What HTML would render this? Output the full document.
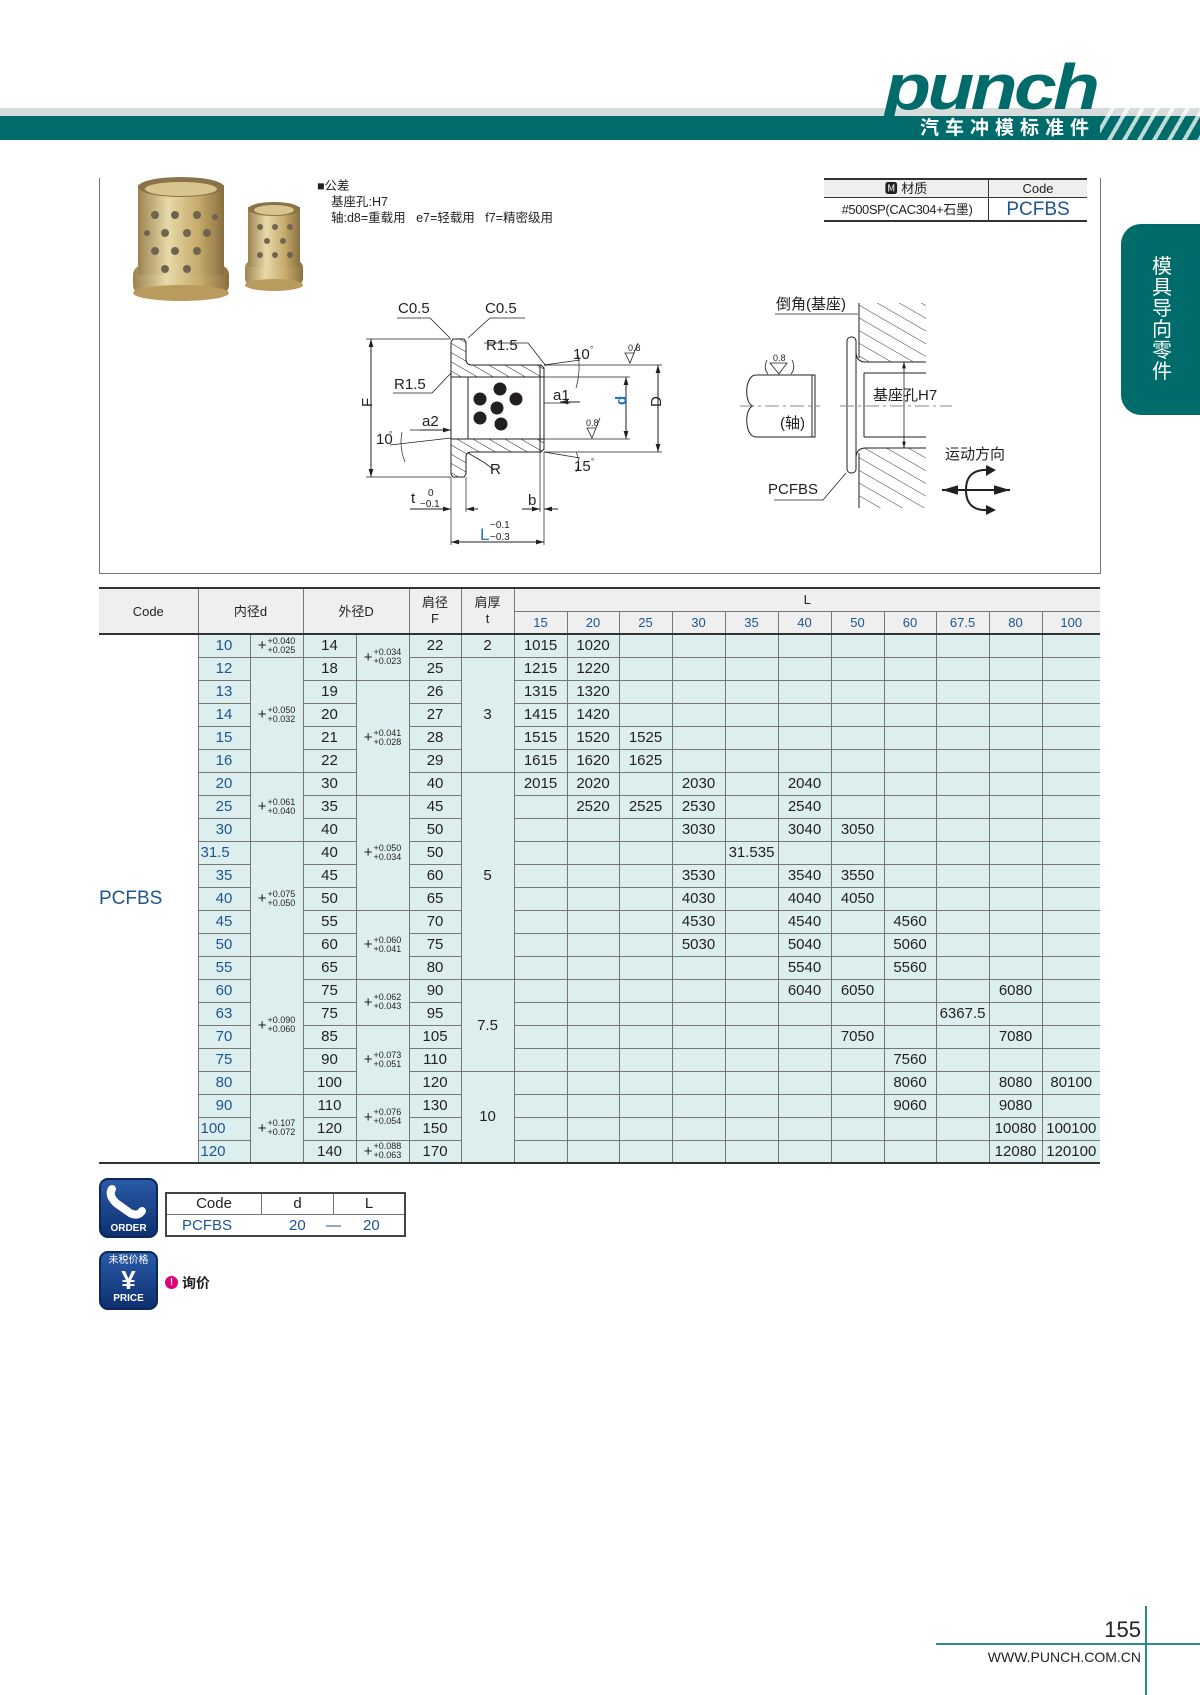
<!DOCTYPE html>
<html><head><meta charset="utf-8">
<style>
*{margin:0;padding:0;box-sizing:border-box}
body{width:1200px;height:1695px;position:relative;background:#fff;font-family:"Liberation Sans","Noto Sans CJK SC",sans-serif;color:#231f20;overflow:hidden}
.a{position:absolute}
table.t{position:absolute;left:99px;top:587px;border-collapse:collapse;table-layout:fixed;width:1001px}
table.t td{border:1px solid #777;height:23px;text-align:center;font-size:15px;padding:0;line-height:21px;background:#dcefee;white-space:nowrap;overflow:visible}
table.t tr.h td{background:#efefef;font-size:13px;height:23px}
table.t tr.h td.b{color:#1d5590;font-size:13px}
.bl{color:#1d5590}
.tol{display:inline-flex;align-items:center;font-size:9px;line-height:9px}
.tol .p{font-size:15px;margin-right:1px}
.tol span.s{display:flex;flex-direction:column;text-align:left}
</style></head><body>

<!-- header bands -->
<div class="a" style="left:0;top:108px;width:1200px;height:8px;background:#d6dcdc"></div>
<div class="a" style="left:0;top:116px;width:1200px;height:24px;background:#006b6b"></div>
<div class="a" style="left:1100px;top:108px;width:100px;height:32px;background:repeating-linear-gradient(120deg,transparent 0 9px,rgba(255,255,255,.75) 9px 13px)"></div>
<div class="a" style="left:884px;top:52px;font:italic bold 64px 'Liberation Sans',sans-serif;color:#006b6b;letter-spacing:-3px;transform:scaleX(1.2);transform-origin:left top;line-height:70px">punch</div>
<div class="a" style="left:920px;top:116px;font:bold 19px 'Noto Sans CJK SC',sans-serif;color:#fff;letter-spacing:6px;line-height:22px">汽车冲模标准件</div>

<!-- right tab -->
<div class="a" style="left:1121px;top:224px;width:79px;height:191px;background:#006b6b;border-radius:20px 0 0 20px"></div>
<div class="a" style="left:1150px;top:254px;width:24px;font:20px 'Noto Sans CJK SC',sans-serif;color:#fff;line-height:21px;text-align:center">模具导向零件</div>

<!-- frame -->
<div class="a" style="left:99px;top:178px;width:1002px;height:396px;border:1px solid #777;border-top:none"></div>

<!-- photos -->
<svg class="a" style="left:125px;top:175px" width="180" height="130">
<defs>
<linearGradient id="br" x1="0" x2="1"><stop offset="0" stop-color="#9c8452"/><stop offset=".35" stop-color="#e8d9a8"/><stop offset=".7" stop-color="#c6ab6c"/><stop offset="1" stop-color="#8a7040"/></linearGradient>
</defs>
<rect x="8" y="90" width="96" height="30" rx="10" fill="url(#br)"/>
<ellipse cx="56" cy="118" rx="48" ry="8" fill="#b99b5d"/>
<rect x="13" y="10" width="86" height="90" fill="url(#br)"/>
<ellipse cx="56" cy="12" rx="43" ry="10" fill="#8a7348"/>
<ellipse cx="56" cy="14" rx="36" ry="7" fill="#d8c48e"/>
<g fill="#6e6450"><circle cx="30" cy="40" r="4"/><circle cx="50" cy="40" r="4"/><circle cx="72" cy="40" r="4"/><circle cx="90" cy="42" r="3"/><circle cx="22" cy="58" r="3"/><circle cx="40" cy="58" r="4"/><circle cx="62" cy="58" r="4"/><circle cx="82" cy="58" r="4"/><circle cx="30" cy="76" r="4"/><circle cx="50" cy="76" r="4"/><circle cx="72" cy="76" r="4"/><circle cx="40" cy="94" r="4"/><circle cx="62" cy="94" r="4"/></g>
<rect x="120" y="85" width="58" height="26" rx="8" fill="url(#br)"/>
<ellipse cx="149" cy="110" rx="29" ry="6" fill="#b99b5d"/>
<rect x="123" y="32" width="52" height="60" fill="url(#br)"/>
<ellipse cx="149" cy="34" rx="26" ry="7" fill="#8a7348"/>
<ellipse cx="149" cy="35" rx="20" ry="5" fill="#d8c48e"/>
<g fill="#6e6450"><circle cx="135" cy="52" r="3"/><circle cx="150" cy="52" r="3"/><circle cx="165" cy="52" r="3"/><circle cx="142" cy="66" r="3"/><circle cx="158" cy="66" r="3"/><circle cx="135" cy="80" r="3"/><circle cx="150" cy="80" r="3"/><circle cx="165" cy="80" r="3"/></g>
</svg>

<!-- tolerance text -->
<div class="a" style="left:317px;top:178px;font-size:12.5px;line-height:16px">
<div>■公差</div><div style="padding-left:14px">基座孔:H7</div><div style="padding-left:14px">轴:d8=重载用&nbsp;&nbsp;&nbsp;e7=轻载用&nbsp;&nbsp;&nbsp;f7=精密级用</div></div>

<!-- material table -->
<div class="a" style="left:824px;top:178px;width:263px;height:44px;border-top:2px solid #333;border-bottom:2px solid #333;font-size:14px">
<div class="a" style="left:0;top:0;width:263px;height:18px;background:#efefef;border-bottom:1px solid #333"></div>
<div class="a" style="left:164px;top:0;width:1px;height:42px;background:#333"></div>
<div class="a" style="left:0;top:0;width:164px;text-align:center;font-size:13px;line-height:18px">🅼 材质</div>
<div class="a" style="left:165px;top:0;width:98px;text-align:center;font-size:13px;line-height:18px">Code</div>
<div class="a" style="left:2px;top:19px;width:162px;text-align:center;font-size:13px;line-height:22px;letter-spacing:-.4px">#500SP(CAC304+石墨)</div>
<div class="a bl" style="left:165px;top:19px;width:98px;text-align:center;font-size:19px;line-height:22px">PCFBS</div>
</div>

<!-- drawings -->
<svg class="a" style="left:0;top:0" width="1200" height="700" font-family="Liberation Sans,Noto Sans CJK SC,sans-serif" fill="none" stroke="#231f20" stroke-width="1">
<defs>
<pattern id="h" width="8" height="8" patternUnits="userSpaceOnUse" patternTransform="rotate(-60)"><line x1="0" y1="0" x2="0" y2="8" stroke="#231f20" stroke-width="1"/></pattern>
<pattern id="h2" width="11" height="11" patternUnits="userSpaceOnUse" patternTransform="rotate(-60)"><line x1="0" y1="0" x2="0" y2="11" stroke="#231f20" stroke-width="0.9"/></pattern>
<marker id="ar" viewBox="0 0 10 6" refX="10" refY="3" markerWidth="8" markerHeight="5" orient="auto-start-reverse"><path d="M0 0L10 3L0 6z" fill="#231f20" stroke="none"/></marker>
</defs>
<path d="M451 342 L453 339 L464 339 L466 342 L466 359 Q466 365 472 365 L541 365 L544 368 L544 377 L451 377 Z" fill="url(#h)"/>
<path d="M451 474 L453 477 L464 477 L466 474 L466 457 Q466 452 472 452 L541 452 L544 449 L544 439 L451 439 Z" fill="url(#h)"/>
<rect x="451" y="377" width="93" height="62" fill="#fff"/>
<line x1="451" y1="377" x2="451" y2="439"/>
<rect x="468" y="377" width="72" height="62" fill="#fff"/>
<line x1="540" y1="365" x2="540" y2="452"/>
<g fill="#231f20" stroke="none"><circle cx="480" cy="399" r="6.5"/><circle cx="500" cy="389" r="6.5"/><circle cx="516" cy="399" r="6.5"/><circle cx="497" cy="408" r="6.5"/><circle cx="480" cy="418" r="6.5"/><circle cx="501" cy="424" r="6.5"/></g>
<line x1="366" y1="339" x2="451" y2="339" stroke-width=".7"/><line x1="366" y1="477" x2="451" y2="477" stroke-width=".7"/>
<line x1="371" y1="339" x2="371" y2="477" marker-start="url(#ar)" marker-end="url(#ar)"/>
<line x1="544" y1="365" x2="662" y2="365" stroke-width=".7"/><line x1="544" y1="452" x2="662" y2="452" stroke-width=".7"/>
<line x1="658" y1="365" x2="658" y2="452" marker-start="url(#ar)" marker-end="url(#ar)"/>
<line x1="540" y1="377" x2="630" y2="377" stroke-width=".7"/><line x1="540" y1="439" x2="630" y2="439" stroke-width=".7"/>
<line x1="626" y1="377" x2="626" y2="439" marker-start="url(#ar)" marker-end="url(#ar)"/>
<line x1="451" y1="477" x2="451" y2="545" stroke-width=".7"/><line x1="544" y1="452" x2="544" y2="545" stroke-width=".7"/>
<line x1="466" y1="477" x2="466" y2="512" stroke-width=".7"/><line x1="540" y1="452" x2="540" y2="512" stroke-width=".7"/>
<line x1="451" y1="542" x2="544" y2="542" marker-start="url(#ar)" marker-end="url(#ar)"/>
<line x1="410" y1="509" x2="451" y2="509" marker-end="url(#ar)"/><line x1="478" y1="509" x2="466" y2="509" marker-end="url(#ar)"/>
<line x1="522" y1="509" x2="540" y2="509" marker-end="url(#ar)"/><line x1="558" y1="509" x2="544" y2="509" marker-end="url(#ar)"/>
<polyline points="397,318 430,318 450,338" stroke-width=".8"/><polyline points="525,318 490,318 468,338" stroke-width=".8"/>
<polyline points="484,343 528,343 546,366" stroke-width=".8"/><polyline points="393,393 432,393 451,373" stroke-width=".8"/>
<polyline points="494,470 485,463 468,453" stroke-width=".8"/>
<line x1="544" y1="403" x2="570" y2="403" stroke-width=".8"/><line x1="580" y1="402" x2="560" y2="402" marker-end="url(#ar)"/>
<line x1="410" y1="430" x2="451" y2="430" stroke-width=".8"/><line x1="420" y1="430" x2="451" y2="430" marker-end="url(#ar)"/>
<line x1="544" y1="365" x2="580" y2="360" stroke-width=".7"/><line x1="544" y1="452" x2="580" y2="458" stroke-width=".7"/>
<line x1="390" y1="445" x2="451" y2="438" stroke-width=".7"/>
<path d="M578 355 Q581 370 576 388" stroke-width=".7"/><path d="M576 452 Q581 462 576 472" stroke-width=".7"/><path d="M402 432 Q399 447 405 462" stroke-width=".7"/>
<path d="M625 353 L630 363 L634 353 Z M630 363 L638 343" stroke-width=".8"/><path d="M587 428 L592 438 L596 428 Z M592 438 L600 418" stroke-width=".8"/>
<g fill="#231f20" stroke="none" font-size="15">
<text x="398" y="313">C0.5</text><text x="485" y="313">C0.5</text>
<text x="486" y="350">R1.5</text><text x="394" y="389">R1.5</text>
<text x="553" y="400">a1</text><text x="422" y="426">a2</text>
<text x="376" y="444">10</text><text x="573" y="359">10</text><text x="574" y="471">15</text>
<text x="490" y="474">R</text><text x="411" y="503">t</text><text x="528" y="505">b</text>
<text x="366" y="413" transform="rotate(-90 366 407)">F</text>
<text x="655" y="413" transform="rotate(-90 655 407)">D</text>
<text x="622" y="413" transform="rotate(-90 620 407)" fill="#1d75bc" font-weight="bold">d</text>
<text x="480" y="540" fill="#1d75bc" font-size="17">L</text>
<text x="490" y="528" font-size="10">−0.1</text><text x="490" y="540" font-size="10">−0.3</text>
<text x="428" y="496" font-size="10">0</text><text x="420" y="507" font-size="10">−0.1</text>
<text x="628" y="351" font-size="9">0.8</text><text x="586" y="426" font-size="9">0.8</text>
<text x="389" y="437" font-size="8">°</text><text x="590" y="352" font-size="8">°</text><text x="591" y="464" font-size="8">°</text>
</g>
<rect x="859" y="303" width="67" height="59" fill="url(#h2)" stroke="none"/>
<rect x="859" y="448" width="67" height="60" fill="url(#h2)" stroke="none"/>
<line x1="859" y1="303" x2="859" y2="358"/><line x1="859" y1="453" x2="859" y2="508"/>
<rect x="847" y="337" width="9" height="136" rx="4" fill="#fff"/>
<path d="M856 352 Q856 362 866 362 L926 362" /><path d="M856 458 Q856 448 866 448 L926 448"/>
<path d="M864 373 L926 373 M864 437 L926 437 M864 373 L864 437"/>
<line x1="904" y1="362" x2="904" y2="448" marker-start="url(#ar)" marker-end="url(#ar)" stroke-width=".8"/>
<path d="M756 375 L815 375 L815 437 L756 437" fill="#fff"/><line x1="812" y1="375" x2="812" y2="437"/>
<path d="M756 375 C744 375 744 406 754 406 C744 406 744 437 756 437"/>
<line x1="740" y1="406" x2="820" y2="406" stroke-dasharray="14 4 3 4" stroke="#888"/>
<line x1="840" y1="406" x2="952" y2="406" stroke-dasharray="14 4 3 4" stroke="#888"/>
<polyline points="775,314 858,314" stroke-width=".8"/><polyline points="774,500 823,500 846,473" stroke-width=".8"/>
<path d="M770 363 L779 374 L787 363 Z" stroke-width=".8"/>
<path d="M767 360 Q763 368 768 374 M792 360 Q796 368 791 374" stroke-width=".8"/>
<line x1="942" y1="490" x2="1010" y2="490" stroke-width="2" marker-start="url(#ar)" marker-end="url(#ar)"/>
<path d="M990 470 Q966 468 966 490 Q966 512 990 510" stroke-width="2"/>
<path d="M986 465 L996 470 L986 476 Z M986 505 L996 510 L986 515 Z" fill="#231f20" stroke="none"/>
<g fill="#231f20" stroke="none" font-size="15">
<text x="776" y="309">倒角(基座)</text>
<text x="873" y="400">基座孔H7</text>
<text x="780" y="428">(轴)</text>
<text x="945" y="459">运动方向</text>
<text x="768" y="494">PCFBS</text>
<text x="773" y="361" font-size="9">0.8</text>
</g>
</svg>

<!-- main table -->
<table class="t">
<colgroup><col style="width:99px"><col style="width:52px"><col style="width:53px"><col style="width:53px"><col style="width:53px"><col style="width:52px"><col style="width:53px"><col style="width:53px"><col style="width:52px"><col style="width:53px"><col style="width:53px"><col style="width:53px"><col style="width:53px"><col style="width:53px"><col style="width:52px"><col style="width:53px"><col style="width:53px"><col style="width:58px"></colgroup>
<tr class="h"><td rowspan="2" style="border-left:none;border-top:2px solid #333">Code</td><td colspan="2" rowspan="2" style="border-top:2px solid #333">内径d</td><td colspan="2" rowspan="2" style="border-top:2px solid #333">外径D</td><td rowspan="2" style="border-top:2px solid #333;line-height:16px">肩径<br>F</td><td rowspan="2" style="border-top:2px solid #333;line-height:16px">肩厚<br>t</td><td colspan="11" style="border-top:2px solid #333;border-right:none">L</td></tr>
<tr class="h"><td class="b">15</td><td class="b">20</td><td class="b">25</td><td class="b">30</td><td class="b">35</td><td class="b">40</td><td class="b">50</td><td class="b">60</td><td class="b">67.5</td><td class="b">80</td><td class="b" style="border-right:none">100</td></tr>
</table>
<script>
var rows=[
["10","14","22",{15:"1015",20:"1020"}],["12","18","25",{15:"1215",20:"1220"}],["13","19","26",{15:"1315",20:"1320"}],["14","20","27",{15:"1415",20:"1420"}],
["15","21","28",{15:"1515",20:"1520",25:"1525"}],["16","22","29",{15:"1615",20:"1620",25:"1625"}],["20","30","40",{15:"2015",20:"2020",30:"2030",40:"2040"}],
["25","35","45",{20:"2520",25:"2525",30:"2530",40:"2540"}],["30","40","50",{30:"3030",40:"3040",50:"3050"}],["31.5","40","50",{35:"31.535"}],
["35","45","60",{30:"3530",40:"3540",50:"3550"}],["40","50","65",{30:"4030",40:"4040",50:"4050"}],["45","55","70",{30:"4530",40:"4540",60:"4560"}],
["50","60","75",{30:"5030",40:"5040",60:"5060"}],["55","65","80",{40:"5540",60:"5560"}],["60","75","90",{40:"6040",50:"6050",80:"6080"}],
["63","75","95",{"67.5":"6367.5"}],["70","85","105",{50:"7050",80:"7080"}],["75","90","110",{60:"7560"}],["80","100","120",{60:"8060",80:"8080",100:"80100"}],
["90","110","130",{60:"9060",80:"9080"}],["100","120","150",{80:"10080",100:"100100"}],["120","140","170",{80:"12080",100:"120100"}]];
var dT={0:[1,".040",".025"],1:[5,".050",".032"],6:[3,".061",".040"],9:[5,".075",".050"],14:[6,".090",".060"],20:[3,".107",".072"]};
var DT={0:[2,".034",".023"],2:[5,".041",".028"],7:[5,".050",".034"],12:[3,".060",".041"],15:[2,".062",".043"],17:[3,".073",".051"],20:[2,".076",".054"],22:[1,".088",".063"]};
var tT={0:[1,"2"],1:[5,"3"],6:[9,"5"],15:[4,"7.5"],19:[4,"10"]};
var Ls=["15","20","25","30","35","40","50","60","67.5","80","100"];
function tol(a,b){return '<span class="tol"><span class="p">+</span><span class="s"><span>+0'+a+'</span><span>+0'+b+'</span></span></span>';}
var t=document.querySelector("table.t"),h="";
rows.forEach(function(r,i){
 var bb=i==22?"border-bottom:2px solid #333;":"";
 h+="<tr>";
 if(i==0)h+='<td rowspan="23" class="bl" style="background:#fff;border-left:none;border-top:2px solid #333;border-bottom:2px solid #333;font-size:19px;text-align:left;padding-left:0">PCFBS</td>';
 var tp=i==0?"border-top:2px solid #333;":"";
 h+='<td class="bl" style="'+tp+bb+(r[0].length>2?"text-align:left;padding-left:2px":"")+'">'+r[0]+'</td>';
 if(dT[i])h+='<td rowspan="'+dT[i][0]+'" style="'+tp+(i==20?"border-bottom:2px solid #333":"")+'">'+tol(dT[i][1],dT[i][2])+'</td>';
 h+='<td style="'+tp+bb+'">'+r[1]+'</td>';
 if(DT[i])h+='<td rowspan="'+DT[i][0]+'" style="'+tp+(i==22?"border-bottom:2px solid #333":"")+'">'+tol(DT[i][1],DT[i][2])+'</td>';
 h+='<td style="'+tp+bb+'">'+r[2]+'</td>';
 if(tT[i])h+='<td rowspan="'+tT[i][0]+'" style="'+tp+(i==19?"border-bottom:2px solid #333":"")+'">'+tT[i][1]+'</td>';
 Ls.forEach(function(l,j){var v=r[3][l]||"";h+='<td style="'+tp+bb+(j==10?"border-right:none;":"")+'">'+v+'</td>';});
 h+="</tr>";
});
t.insertAdjacentHTML("beforeend",h);
</script>

<!-- order -->
<div class="a" style="left:99px;top:1178px;width:59px;height:60px;border-radius:9px;background:linear-gradient(#2a5aa8,#0d3070);border:2px solid #0a2858"></div>
<svg class="a" style="left:106px;top:1183px" width="44" height="36"><path d="M6 6 Q2 12 10 20 L24 30 Q32 34 36 28" stroke="#fff" stroke-width="8" fill="none" stroke-linecap="round"/></svg>
<div class="a" style="left:99px;top:1223px;width:59px;text-align:center;color:#fff;font:bold 10px 'Liberation Sans',sans-serif">ORDER</div>
<div class="a" style="left:165px;top:1192px;width:241px;height:45px;border:2px solid #444;font-size:15px">
<div class="a" style="left:0;top:0;width:237px;height:21px;border-bottom:1px solid #777"></div>
<div class="a" style="left:94px;top:0;width:1px;height:21px;background:#777"></div>
<div class="a" style="left:166px;top:0;width:1px;height:21px;background:#777"></div>
<div class="a" style="left:0;top:1px;width:94px;text-align:center">Code</div>
<div class="a" style="left:95px;top:1px;width:71px;text-align:center">d</div>
<div class="a" style="left:167px;top:1px;width:70px;text-align:center">L</div>
<div class="a bl" style="left:15px;top:23px">PCFBS</div>
<div class="a bl" style="left:122px;top:23px">20</div>
<div class="a bl" style="left:159px;top:23px">—</div>
<div class="a bl" style="left:196px;top:23px">20</div>
</div>
<div class="a" style="left:99px;top:1251px;width:59px;height:59px;border-radius:9px;background:linear-gradient(#2a5aa8,#0d3070);border:2px solid #0a2858;color:#fff;text-align:center">
<div style="font-size:10px;line-height:12px;margin-top:2px">未税价格</div>
<div style="font:bold 26px 'Liberation Sans',sans-serif;line-height:26px">¥</div>
<div style="font:bold 10px 'Liberation Sans',sans-serif">PRICE</div></div>
<div class="a" style="left:165px;top:1276px;width:13px;height:13px;border-radius:50%;background:#e0007a;color:#fff;font:bold 10px sans-serif;text-align:center;line-height:13px">!</div>
<div class="a" style="left:182px;top:1273px;font-size:14px;font-weight:bold">询价</div>

<!-- footer -->
<div class="a" style="left:1145px;top:1606px;width:2px;height:89px;background:#2b8b8b"></div>
<div class="a" style="left:936px;top:1643px;width:264px;height:2px;background:#2b8b8b"></div>
<div class="a" style="left:1040px;top:1617px;width:101px;text-align:right;font-size:22px">155</div>
<div class="a" style="left:940px;top:1649px;width:201px;text-align:right;font-size:14px">WWW.PUNCH.COM.CN</div>
</body></html>
